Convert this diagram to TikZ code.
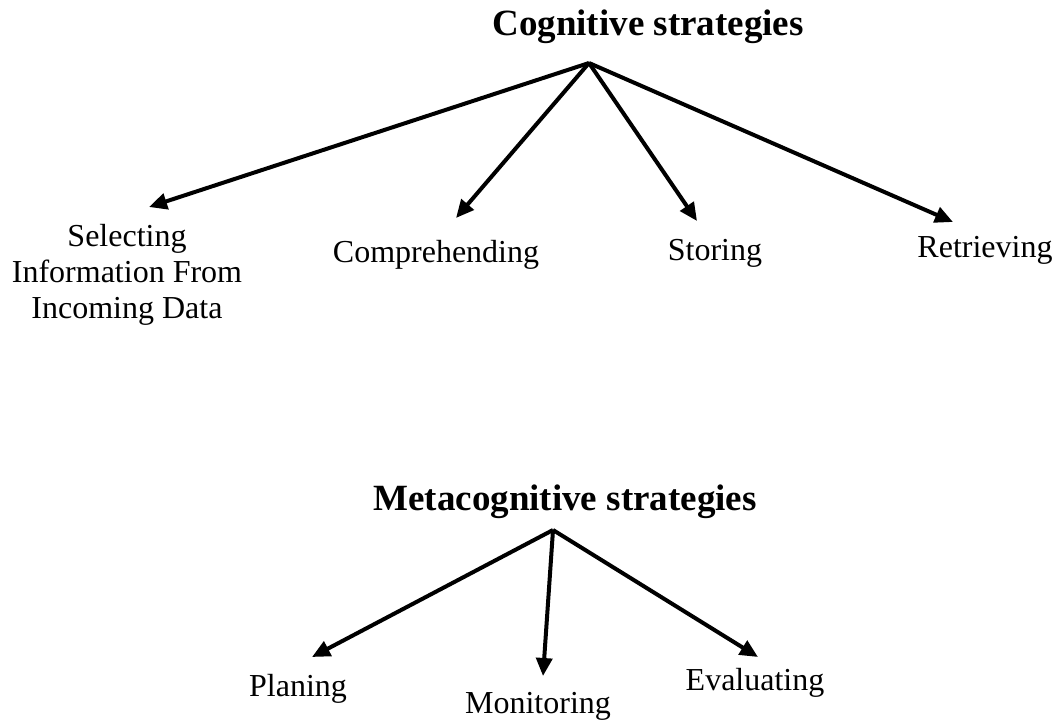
\documentclass[tikz,border=0pt]{standalone}
\usepackage{fontspec}
\setmainfont{Liberation Serif}
\usetikzlibrary{arrows.meta}
\begin{document}
\begin{tikzpicture}[x=1pt,y=-1pt,
  heading/.style={font=\fontsize{37}{42}\selectfont\bfseries, inner sep=0pt, anchor=base},
  item/.style={font=\fontsize{32}{36}\selectfont, inner sep=0pt, anchor=base},
  branch/.style={line width=4pt, -{Triangle[length=18pt,width=16pt]}}]
\useasboundingbox (0,0) rectangle (1059,720);

% cognitive strategies
\node[heading] (cog) at (648,35) {Cognitive strategies};
\coordinate (capex) at (589,63);
\node[font=\fontsize{32}{36}\selectfont, inner sep=0pt, align=center] (sel) at (127,275)
  {Selecting\\Information From\\Incoming Data};
\node[item] (comp) at (436,262) {Comprehending};
\node[item] (stor) at (715,260) {Storing};
\node[item] (retr) at (985,257) {Retrieving};
\coordinate (tsel) at (149,207);
\coordinate (tcomp) at (456,218);
\coordinate (tstor) at (697,221);
\coordinate (tretr) at (953,222);
\draw[branch] (capex) -- (tsel);
\draw[branch] (capex) -- (tcomp);
\draw[branch] (capex) -- (tstor);
\draw[branch] (capex) -- (tretr);

% metacognitive strategies
\node[heading] (meta) at (565,510) {Metacognitive strategies};
\coordinate (mapex) at (553,530);
\node[item] (plan) at (298,696) {Planing};
\node[item] (moni) at (538,713) {Monitoring};
\node[item] (eval) at (755,690) {Evaluating};
\coordinate (tplan) at (312,657);
\coordinate (tmoni) at (543,676);
\coordinate (teval) at (758,657);
\draw[branch] (mapex) -- (tplan);
\draw[branch] (mapex) -- (tmoni);
\draw[branch] (mapex) -- (teval);
\end{tikzpicture}
\end{document}
